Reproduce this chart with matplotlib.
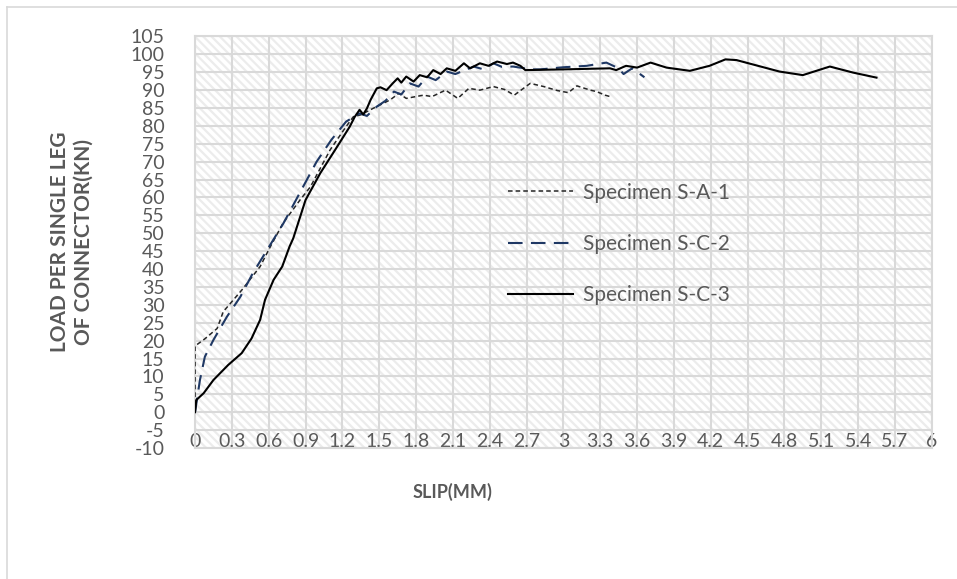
import matplotlib.pyplot as plt
from matplotlib.patches import Rectangle
from matplotlib.lines import Line2D

plt.rcParams['font.family'] = ['Lato', 'DejaVu Sans']
plt.rcParams['hatch.linewidth'] = 1.6
plt.rcParams['axes.unicode_minus'] = False

# Specimen S-A-1 (short dash)
sa1_x = [0, 0, 0.08, 0.18, 0.23, 0.38, 0.53, 0.62, 0.72, 0.855, 0.94, 1.10, 1.23, 1.29,
         1.35, 1.45, 1.59, 1.66, 1.72, 1.86, 1.93, 2.04, 2.14, 2.23, 2.32, 2.43, 2.52,
         2.60, 2.73, 2.84, 2.95, 3.04, 3.11, 3.22, 3.27, 3.34, 3.38]
sa1_y = [0, 18.5, 20.5, 23.4, 28.1, 34.1, 40.7, 46.7, 53.0, 59.3, 63.0, 73.3, 79.8, 82.6,
         83.1, 84.9, 87.3, 89.1, 87.7, 88.6, 88.2, 90.0, 87.7, 90.5, 90.0, 91.0, 90.2,
         88.6, 91.9, 91.0, 89.9, 89.3, 91.2, 90.0, 89.6, 88.6, 88.2]

# Specimen S-C-2 (long dash)
sc2_x = [0, 0.04, 0.08, 0.15, 0.26, 0.37, 0.47, 0.57, 0.72, 0.88, 0.99, 1.11, 1.23, 1.34,
         1.40, 1.48, 1.55, 1.62, 1.68, 1.75, 1.82, 1.89, 1.96, 2.05, 2.12, 2.27, 2.35,
         2.43, 2.50, 2.59, 2.74, 2.81, 3.00, 3.19, 3.35, 3.45, 3.49, 3.56, 3.66]
sc2_y = [0, 9.0, 15.5, 20.2, 26.7, 32.3, 38.8, 44.4, 52.8, 63.0, 70.0, 76.1, 81.2, 83.5,
         82.8, 85.4, 87.0, 89.6, 88.8, 91.9, 91.0, 93.8, 92.8, 95.2, 94.5, 96.6, 95.8,
         97.5, 96.5, 96.6, 95.8, 95.8, 96.4, 96.8, 97.7, 96.1, 94.5, 96.1, 93.6]

# Specimen S-C-3 (solid)
sc3_x = [0, 0.01, 0.07, 0.15, 0.27, 0.38, 0.46, 0.53, 0.57, 0.64, 0.71, 0.77, 0.80,
         0.90, 1.02, 1.15, 1.26, 1.30, 1.34, 1.37, 1.40, 1.43, 1.48, 1.51, 1.56, 1.61,
         1.65, 1.68, 1.72, 1.78, 1.83, 1.89, 1.94, 2.00, 2.05, 2.12, 2.19, 2.24, 2.32,
         2.39, 2.46, 2.54, 2.59, 2.65, 2.69, 3.00, 3.38, 3.43, 3.51, 3.60, 3.71, 3.84,
         4.03, 4.19, 4.32, 4.41, 4.76, 4.95, 5.17, 5.36, 5.55]
sc3_y = [0, 3.4, 5.3, 9.0, 13.2, 16.5, 20.6, 25.8, 31.4, 37.0, 40.7, 46.3, 48.6,
         59.3, 66.8, 73.8, 79.8, 82.5, 84.5, 83.2, 84.9, 87.3, 90.5, 90.8, 90.0, 91.9,
         93.3, 92.1, 93.8, 92.4, 94.2, 93.6, 95.6, 94.5, 96.1, 95.4, 97.5, 96.1, 97.5,
         96.8, 98.0, 97.3, 97.7, 96.8, 95.6, 95.8, 96.1, 95.6, 96.8, 96.3, 97.7, 96.3,
         95.4, 96.8, 98.6, 98.4, 95.2, 94.2, 96.6, 94.9, 93.5]

x_ticks = [round(0.3 * i, 1) for i in range(21)]
x_labels = ['0', '0.3', '0.6', '0.9', '1.2', '1.5', '1.8', '2.1', '2.4', '2.7', '3', '3.3',
            '3.6', '3.9', '4.2', '4.5', '4.8', '5.1', '5.4', '5.7', '6']
y_ticks = list(range(-10, 106, 5))

grey = '#595959'
fig = plt.figure(figsize=(9.57, 5.79), dpi=100)
ax = fig.add_axes([0.2038, 0.2263, 0.7698, 0.7107])

# hatched plot area like the excel pattern fill
ax.add_patch(Rectangle((0, 0), 1, 1, transform=ax.transAxes, fill=False,
                       hatch='\\\\\\\\', edgecolor='#ececec', lw=0, zorder=0))

ax.plot(sa1_x, sa1_y, color='#262626', lw=1.1, ls=(0, (3, 2)), label='Specimen S-A-1', zorder=3)
ax.plot(sc2_x, sc2_y, color='#1f3864', lw=1.5, ls=(0, (7, 4)), label='Specimen S-C-2', zorder=3)
ax.plot(sc3_x, sc3_y, color='black', lw=1.5, label='Specimen S-C-3', zorder=3)

ax.set_xlim(0, 6)
ax.set_ylim(-10, 105)
ax.set_xticks(x_ticks)
ax.set_xticklabels(x_labels)
ax.set_yticks(y_ticks)
ax.grid(True, color='#d9d9d9', lw=1.5, zorder=1)
ax.set_axisbelow(True)
for s in ax.spines.values():
    s.set_color('#d9d9d9')
    s.set_linewidth(1.5)
ax.tick_params(length=0, labelsize=14, colors=grey)
ax.tick_params(axis='x', pad=-11)
ax.tick_params(axis='y', pad=22)

ax.set_xlabel('SLIP(MM)', fontsize=13, fontweight='bold', color=grey)
ax.xaxis.set_label_coords(0.350, -0.085)
ax.set_ylabel('LOAD PER SINGLE LEG\nOF CONNECTOR(KN)', fontsize=15, fontweight='bold',
              color=grey, linespacing=1.2)
ax.yaxis.set_label_coords(-0.138, 0.5)

leg = ax.legend(loc='upper left', bbox_to_anchor=(0.40, 0.69), frameon=False, fontsize=15,
                labelcolor=grey, handlelength=3.1, handletextpad=0.5, labelspacing=1.5)

# chart-area frame (top and left only visible)
fig.add_artist(Line2D([7 / 957, 1], [1 - 7 / 579] * 2, color='#d9d9d9', lw=1.2))
fig.add_artist(Line2D([7 / 957] * 2, [0, 1 - 7 / 579], color='#d9d9d9', lw=1.2))

fig.savefig('out.png', dpi=100)
